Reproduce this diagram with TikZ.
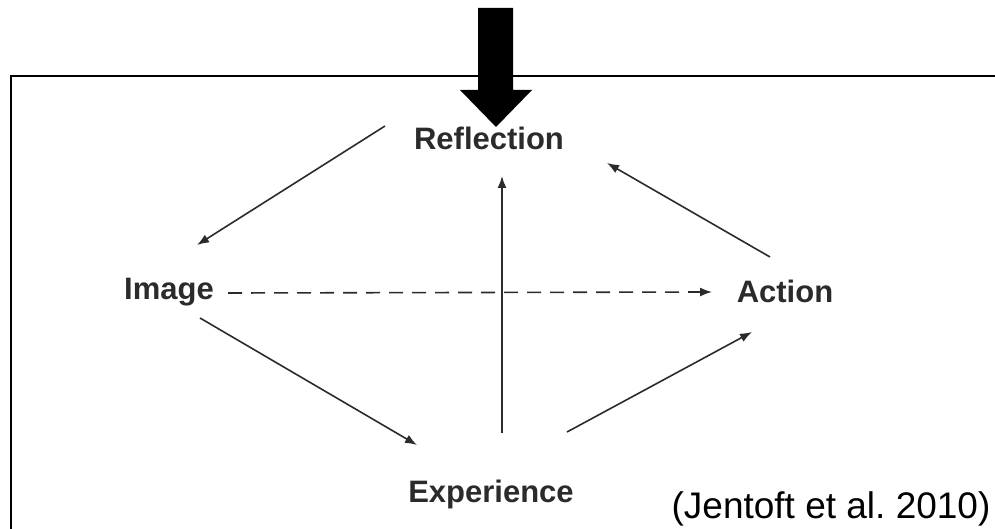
\documentclass[tikz,border=0pt]{standalone}
\usepackage{fontspec}
\setmainfont{Liberation Sans}
\usepackage{tikz}
\usetikzlibrary{arrows.meta, positioning}
\definecolor{labelgray}{HTML}{2B2B2B}
\frenchspacing

\begin{document}
\begin{tikzpicture}[x=1pt, y=-1pt,
        stage/.style={anchor=base, inner sep=0pt, text=labelgray, font=\fontsize{31}{36}\selectfont\bfseries},
        edge/.style={-{Latex[length=12pt, width=9pt]}, line width=1.6pt, draw=labelgray},
        dashedge/.style={edge, dash pattern=on 14pt off 9pt},
        ]
        \useasboundingbox (0,0) rectangle (995,529);

        % frame and pointer
        \draw[line width=2pt] (11,545) -- (11,76) -- (1005,76);
        \fill (478,8) -- (513,8) -- (513,90) -- (532,90) -- (496,127) -- (460,90) -- (478,90) -- cycle;

        % stages
        \node[stage] (refl) at (489,150) {Reflection};
        \node[stage] (image) at (169,299) {Image};
        \node[stage] (action) at (785,302) {Action};
        \node[stage] (exp) at (491,502) {Experience};
        \node[anchor=base, inner sep=0pt, font=\fontsize{37}{42}\selectfont] (cite) at (831,518) {(Jentoft et al. 2010)};

        \draw[edge] ([shift={(-104,-24)}]refl.base) -- ([shift={(28,-54)}]image.base);
        \draw[edge] ([shift={(31,19)}]image.base) -- ([shift={(-74,-57)}]exp.base);
        \draw[edge] ([shift={(11,-69)}]exp.base) -- ([shift={(13,26)}]refl.base);
        \draw[edge] ([shift={(76,-70)}]exp.base) -- ([shift={(-33,30)}]action.base);
        \draw[edge] ([shift={(-15,-45)}]action.base) -- ([shift={(118,13)}]refl.base);
        \draw[dashedge] ([shift={(59,-6)}]image.base) -- ([shift={(-73,-10)}]action.base);

\end{tikzpicture}
\end{document}
